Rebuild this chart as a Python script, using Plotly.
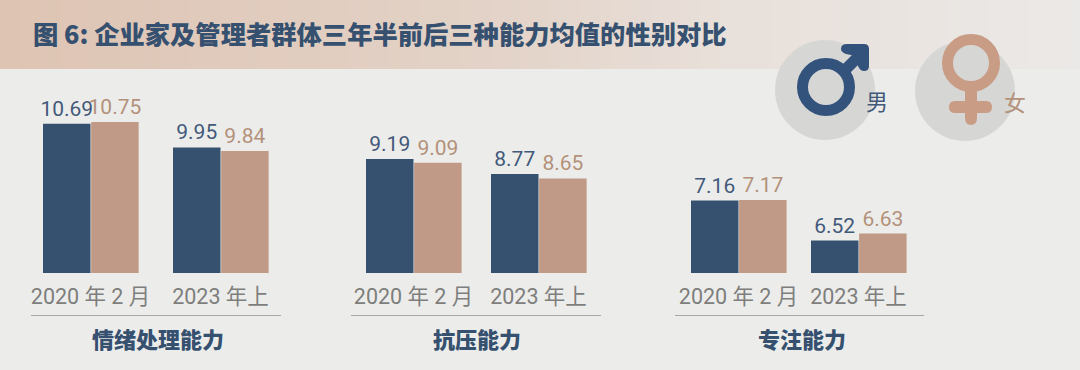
import plotly.graph_objects as go

W, H = 1080, 370
TITLE = "图 6: 企业家及管理者群体三年半前后三种能力均值的性别对比"
PANELS = ["情绪处理能力", "抗压能力", "专注能力"]
PERIODS = ["2020 年 2 月", "2023 年上"]
MALE = [[10.69, 9.95], [9.19, 8.77], [7.16, 6.52]]
FEMALE = [[10.75, 9.84], [9.09, 8.65], [7.17, 6.63]]

NAVY, TAN = "#36506f", "#c09a86"
NAVY_TXT, TAN_TXT = "#43597a", "#b3917a"
GREY_TXT = "#7e7e7c"
BG = "#ecedeb"
CJK = "Noto Sans CJK SC"
NUM_FONT = "Roboto"
TICK_FONT = "Roboto, " + CJK

BASE = 6
TOP_PX, BOT_PX, LINE_PX = 70, 273, 315
# left, right of rule; px of the two group centres; px per unit; title x
GEOM = [(31, 281, 90.5, 220.5, 31.8, 158),
        (351, 601, 413.5, 538.5, 35.7, 477),
        (675, 924, 738.5, 858.5, 62.5, 802)]
BAR_PX = 47.5
BAND_STOPS = [(0, (222, 196, 179)), (500, (227, 211, 200)), (700, (232, 223, 217)), (1080, (235, 233, 231))]

def py(p):
    return 1 - p / H

fig = go.Figure()
layout = {}
for i, (l, r, c0, c1, scale, tx) in enumerate(GEOM):
    sfx = "" if i == 0 else str(i + 1)
    step = c1 - c0
    w = BAR_PX / step
    for vals, col, tcol, name, off in ((MALE[i], NAVY, NAVY_TXT, "男", -w), (FEMALE[i], TAN, TAN_TXT, "女", 0.005)):
        fig.add_bar(x=PERIODS, y=vals, name=name, xaxis="x" + sfx, yaxis="y" + sfx,
                    marker=dict(color=col, line_width=0), width=w, offset=off,
                    text=[f"{v:.2f}" for v in vals], textposition="outside", cliponaxis=True,
                    constraintext="none",
                    textfont=dict(family=NUM_FONT, size=21, color=tcol), showlegend=False,
                    hoverinfo="x+y")
    layout["xaxis" + sfx] = dict(
        domain=[l / W, r / W], range=[-(c0 - l) / step, 1 + (r - c1) / step], type="category",
        categoryorder="array", categoryarray=PERIODS,
        anchor="free", position=py(LINE_PX), side="top", showline=True, linecolor="#a7a8a6", linewidth=1,
        showgrid=False, zeroline=False, ticks="", ticklabelstandoff=2,
        tickfont=dict(family=TICK_FONT, size=21.5, color=GREY_TXT))
    layout["yaxis" + sfx] = dict(domain=[py(BOT_PX), py(TOP_PX)], range=[BASE, BASE + (BOT_PX - TOP_PX) / scale],
                                 visible=False, anchor="x" + sfx)

def band_colour(x):
    for (x0, c0), (x1, c1) in zip(BAND_STOPS, BAND_STOPS[1:]):
        if x <= x1:
            t = (x - x0) / (x1 - x0)
            return "rgb({},{},{})".format(*[round(a + (b - a) * t) for a, b in zip(c0, c1)])
    return "rgb({},{},{})".format(*BAND_STOPS[-1][1])

shapes = [dict(type="rect", xref="paper", yref="paper", x0=x / W, x1=(x + 11) / W, y0=py(69), y1=1, layer="below",
               line_width=0, fillcolor=band_colour(x)) for x in range(0, W, 10)]

def px_shape(**k):
    d = dict(xref="paper", yref="paper", layer="above")
    d.update(k)
    if "line" not in d:
        d["line"] = dict(width=0)
    return d

def circle(cx, cy, r, **k):
    return px_shape(type="circle", x0=(cx - r) / W, x1=(cx + r) / W, y0=py(cy + r), y1=py(cy - r), **k)

def P(s, col):
    out, toks = [], s.split()
    i = 0
    while i < len(toks):
        if toks[i].isalpha():
            out.append(toks[i]); i += 1
        else:
            out.append(f"{float(toks[i]) / W:.5f},{py(float(toks[i + 1])):.5f}"); i += 2
    return px_shape(type="path", path=" ".join(out), fillcolor=col)

shapes += [circle(825, 90, 50, fillcolor="#d6d7d5"), circle(965, 91, 50, fillcolor="#d6d7d5")]
# male
MALE_C = "#33527c"
shapes += [circle(826, 87, 23.5, fillcolor="rgba(0,0,0,0)", line=dict(color=MALE_C, width=11)),
           P("M 840 67 L 858 49 L 866 57 L 848 75 Z", MALE_C),
           P("M 847 44 L 864 44 Q 869 44 869 49 L 869 66 Q 869 71 864 71 Q 860 71 858 66 L 856 56 L 846 54 Q 841 52 841 49 Q 841 44 847 44 Z", MALE_C)]
# female
FEM = "#c99c85"
shapes += [circle(971, 63, 23.5, fillcolor="rgba(0,0,0,0)", line=dict(color=FEM, width=11)),
           P("M 965 88 L 977 88 L 977 118 Q 977 125 971 125 Q 965 125 965 118 Z", FEM),
           P("M 955 101 L 986 101 Q 992 101 992 107 Q 992 113 986 113 L 955 113 Q 949 113 949 107 Q 949 101 955 101 Z", FEM)]

def note(text, x, y, size, color, weight=400, anchor="center"):
    return dict(text=text, x=x / W, y=py(y), xref="paper", yref="paper",
                xanchor=anchor, yanchor="middle", showarrow=False,
                font=dict(family=CJK, size=size, color=color, weight=weight))

ann = [note(TITLE, 31, 33.5, 25.3, "#36506f", 900, "left"),
       note("男", 877, 100, 22, "#43597a"), note("女", 1015, 101, 22, TAN_TXT)]
ann += [note(t, g[5], 337.5, 22, "#36506f", 900) for t, g in zip(PANELS, GEOM)]

fig.update_layout(width=W, height=H, margin=dict(l=0, r=0, t=0, b=0), paper_bgcolor=BG, plot_bgcolor="rgba(0,0,0,0)",
                  shapes=shapes, annotations=ann, barmode="overlay", **layout)
PAGE_JS = ("document.documentElement.style.margin='0';document.body.style.margin='0';"
           "document.body.style.background='%s';"
           "var g=document.getElementById('{plot_id}');g.style.position='absolute';g.style.left='0';g.style.top='0';" % BG)
fig.write_html("out.html", config=dict(displayModeBar=False), post_script=PAGE_JS)
